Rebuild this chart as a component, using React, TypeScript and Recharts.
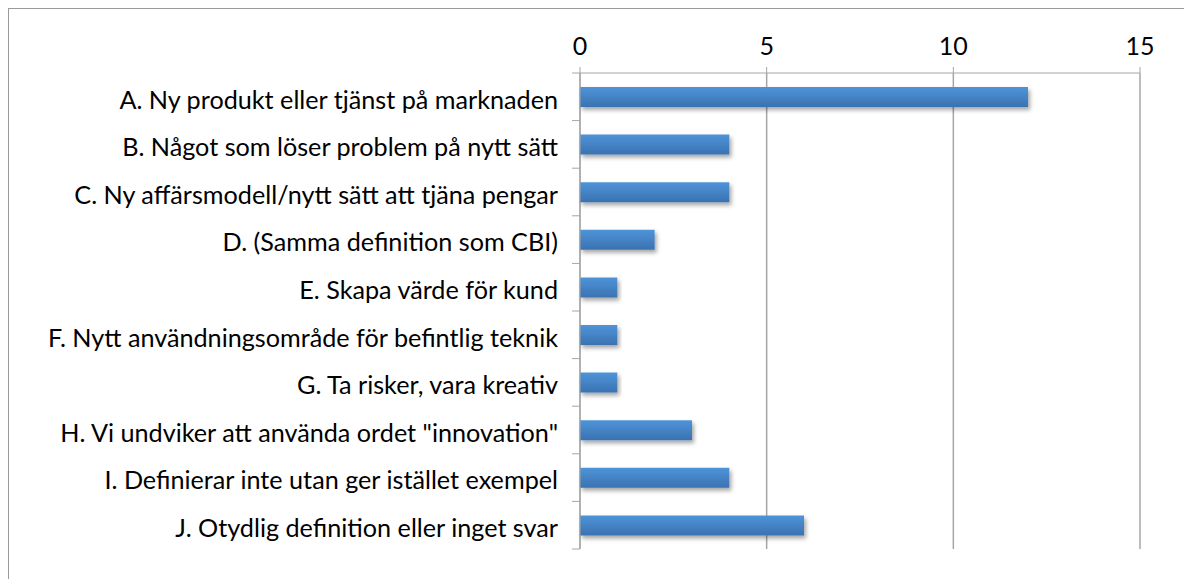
import { BarChart, Bar, XAxis, YAxis, CartesianGrid } from 'recharts'

const categories = [
  'A. Ny produkt eller tjänst på marknaden',
  'B. Något som löser problem på nytt sätt',
  'C. Ny affärsmodell/nytt sätt att tjäna pengar',
  'D. (Samma definition som CBI)',
  'E. Skapa värde för kund',
  'F. Nytt användningsområde för befintlig teknik',
  'G. Ta risker, vara kreativ',
  'H. Vi undviker att använda ordet "innovation"',
  'I. Definierar inte utan ger istället exempel',
  'J. Otydlig definition eller inget svar',
]
const counts = [12, 4, 4, 2, 1, 1, 1, 3, 4, 6]
const xTicks = [0, 5, 10, 15]

const data = categories.map((name, i) => ({ name, value: counts[i] }))

const W = 1181
const H = 572
const AXIS_X = 571
const TOP = 64
const BOTTOM = 32
const BAND = (H - TOP - BOTTOM) / categories.length
const FONT = 'Lato, "Open Sans", sans-serif'
const GRID = '#a6a6a6'

function CategoryTick(props: any) {
  const { x, y, payload, index } = props
  const last = index === categories.length - 1
  return (
    <g>
      <line x1={AXIS_X - 8} x2={AXIS_X} y1={y - BAND / 2} y2={y - BAND / 2} stroke={GRID} />
      {last && <line x1={AXIS_X - 8} x2={AXIS_X} y1={y + BAND / 2} y2={y + BAND / 2} stroke={GRID} />}
      <text x={x - 14} y={y + 3} dy="0.35em" textAnchor="end" fontSize={25.2} fill="#000" fontFamily={FONT}>
        {payload.value}
      </text>
    </g>
  )
}

export default function App() {
  return (
    <div style={{ width: W, height: H + 8, border: '1px solid #9a9a9a', background: '#fff' }}>
      <BarChart
        width={W}
        height={H}
        data={data}
        layout="vertical"
        margin={{ top: 0, right: 50, bottom: BOTTOM, left: 0 }}
        barCategoryGap={0}
      >
        <defs>
          <linearGradient id="barFill" x1="0" y1="0" x2="0" y2="1">
            <stop offset="0%" stopColor="#4f94d9" />
            <stop offset="100%" stopColor="#3a72b0" />
          </linearGradient>
          <filter id="barShadow" x="-5%" y="-30%" width="115%" height="190%">
            <feDropShadow dx="2" dy="3" stdDeviation="2" floodColor="#000" floodOpacity="0.35" />
          </filter>
        </defs>
        <CartesianGrid horizontal={false} stroke={GRID} strokeWidth={1.5} />
        <XAxis
          type="number"
          orientation="top"
          domain={[0, 15]}
          ticks={xTicks}
          height={TOP}
          stroke={GRID}
          tickSize={6}
          tickMargin={12}
          tick={{ fill: '#000', fontSize: 25, fontFamily: FONT }}
        />
        <YAxis
          type="category"
          dataKey="name"
          width={AXIS_X}
          stroke={GRID}
          tickLine={false}
          tick={<CategoryTick />}
          interval={0}
        />
        <Bar
          dataKey="value"
          barSize={20}
          fill="url(#barFill)"
          filter="url(#barShadow)"
          isAnimationActive={false}
        />
      </BarChart>
    </div>
  )
}
